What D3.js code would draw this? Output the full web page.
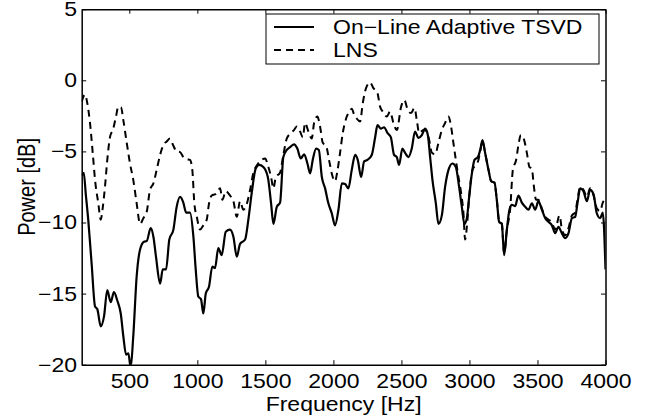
<!DOCTYPE html>
<html>
<head>
<meta charset="utf-8">
<script src="https://cdn.jsdelivr.net/npm/d3@7"></script>
<style>
  body { margin: 0; background: #fff; }
  svg text { font-family: "Liberation Sans", Arial, Helvetica, sans-serif; fill: #000; }
</style>
</head>
<body>
<svg id="chart" width="660" height="418"></svg>
<script>
// On-Line Adaptive TSVD curve
let freqTSVD = [150,165,180,198,223,248,265,290,314,338,363,387,412,437,456,476,493,510,529,554,579,608,628,657,677,696,726,746,770,794,824,848,873,897,917,946,971,988,1007,1027,1044,1062,1086,1110,1130,1154,1179,1209,1240,1265,1290,1314,1351,1375,1400,1429,1454,1485,1518,1542,1559,1584,1608,1632,1657,1682,1711,1735,1760,1785,1809,1829,1848,1873,1893,1915,1939,1963,1988,2012,2037,2062,2086,2110,2135,2160,2179,2204,2226,2250,2282,2307,2324,2349,2373,2397,2422,2446,2466,2483,2507,2527,2551,2576,2600,2625,2650,2674,2694,2711,2728,2753,2772,2797,2821,2846,2875,2900,2924,2944,2963,2981,2998,3018,3037,3062,3079,3096,3115,3140,3160,3184,3201,3218,3238,3255,3275,3294,3312,3336,3360,3385,3410,3434,3459,3483,3507,3532,3557,3581,3606,3630,3654,3679,3704,3728,3753,3777,3794,3814,3838,3863,3887,3912,3936,3961,3980,4000]
let powerTSVD = [-6.7,-6.5,-8.0,-9.8,-12.9,-15.9,-16.1,-17.3,-16.6,-14.75,-15.6,-14.9,-15.5,-16.4,-18.0,-19.3,-19.2,-20.2,-18.0,-13.8,-11.9,-11.35,-11.3,-10.4,-11.0,-12.4,-14.3,-13.3,-13.3,-11.2,-10.5,-8.9,-8.2,-8.6,-9.3,-9.3,-11.0,-13.3,-15.2,-15.4,-16.4,-15.0,-14.5,-13.1,-13.2,-11.8,-12.3,-10.65,-10.5,-11.0,-12.4,-11.5,-11.2,-9.8,-7.9,-6.2,-5.95,-6.1,-6.8,-8.65,-10.1,-8.9,-8.6,-5.4,-4.9,-4.7,-4.5,-4.8,-5.5,-5.2,-5.85,-6.55,-5.6,-4.8,-4.9,-6.8,-7.6,-8.65,-9.35,-10.2,-9.1,-7.25,-7.3,-7.6,-6.3,-5.25,-5.6,-6.8,-5.7,-5.6,-5.25,-4.0,-3.15,-3.4,-3.3,-3.7,-4.0,-5.25,-5.4,-5.95,-4.8,-5.1,-5.4,-4.8,-3.6,-4.05,-3.85,-3.4,-3.85,-5.4,-7.0,-8.65,-10.1,-9.5,-7.5,-6.3,-5.85,-6.1,-7.5,-8.9,-10.1,-9.7,-8.2,-6.55,-5.6,-5.4,-4.9,-4.2,-5.1,-6.3,-7.1,-7.2,-8.4,-9.95,-10.1,-12.3,-10.5,-9.1,-8.75,-8.85,-8.1,-8.6,-8.9,-9.1,-8.65,-9.1,-8.5,-9.1,-9.7,-9.95,-10.2,-10.75,-10.3,-10.75,-11.1,-10.75,-9.7,-9.6,-8.65,-7.6,-7.8,-8.5,-7.7,-8.0,-9.35,-9.7,-9.3,-13.3]

// LNS curve
let freqLNS = [150,174,191,211,231,248,272,290,304,321,338,358,382,402,419,439,456,481,505,529,554,579,603,628,652,677,701,726,750,775,799,819,848,873,897,922,946,963,978,996,1020,1044,1069,1086,1106,1135,1167,1184,1209,1240,1265,1290,1314,1338,1363,1388,1412,1437,1461,1498,1522,1542,1559,1577,1608,1632,1657,1689,1710,1731,1755,1775,1792,1816,1841,1858,1882,1902,1922,1946,1970,1988,2012,2029,2049,2069,2093,2118,2135,2152,2172,2196,2216,2240,2270,2294,2324,2343,2363,2392,2417,2441,2466,2498,2522,2547,2571,2596,2613,2630,2662,2687,2704,2724,2748,2772,2797,2821,2846,2865,2882,2900,2919,2939,2956,2968,2981,2998,3022,3047,3066,3079,3096,3115,3140,3160,3184,3201,3218,3238,3255,3275,3299,3319,3343,3360,3378,3397,3422,3441,3459,3471,3490,3507,3532,3557,3581,3606,3630,3662,3680,3704,3728,3753,3777,3794,3814,3838,3863,3887,3912,3936,3961,3980,4000]
let powerLNS = [-1.5,-1.0,-1.6,-3.0,-5.1,-7.0,-8.65,-9.8,-9.0,-7.5,-5.6,-4.0,-3.4,-2.55,-1.85,-1.9,-2.8,-4.4,-5.85,-7.0,-8.65,-10.1,-9.7,-9.25,-7.7,-7.25,-6.3,-5.25,-4.55,-4.3,-4.1,-4.5,-5.0,-5.05,-5.4,-5.55,-5.6,-6.3,-8.65,-9.6,-10.5,-10.2,-9.8,-8.65,-8.1,-8.0,-7.6,-8.4,-7.8,-8.1,-8.5,-9.6,-8.5,-9.1,-8.7,-7.7,-6.5,-6.0,-5.7,-5.5,-6.1,-6.8,-7.6,-6.8,-6.5,-5.25,-4.1,-3.7,-3.5,-3.25,-3.6,-4.0,-3.0,-3.6,-4.1,-3.0,-2.55,-3.25,-4.4,-4.6,-5.7,-6.55,-7.1,-6.4,-5.1,-3.7,-2.7,-2.2,-2.0,-2.4,-2.7,-2.9,-1.6,-0.55,-0.15,-0.55,-0.9,-1.85,-2.2,-2.55,-2.2,-3.0,-3.5,-1.85,-1.4,-2.1,-2.3,-1.95,-2.8,-3.7,-3.5,-3.6,-4.2,-5.1,-5.2,-4.4,-3.5,-3.0,-2.55,-3.25,-4.4,-5.6,-6.8,-7.95,-9.35,-11.2,-10.3,-8.2,-6.3,-5.95,-5.6,-5.0,-4.3,-5.1,-6.3,-7.1,-7.2,-8.4,-9.9,-10.1,-12.2,-10.5,-9.1,-6.3,-5.6,-4.55,-3.85,-4.05,-5.1,-6.1,-6.2,-7.25,-8.4,-8.4,-9.0,-9.6,-9.8,-10.0,-10.5,-9.5,-10.5,-10.9,-10.4,-9.5,-9.3,-8.4,-7.5,-7.7,-8.2,-7.6,-8.1,-9.0,-9.2,-8.6,-8.4]

let xTicks = [500,1000,1500,2000,2500,3000,3500,4000]
let yTicks = [-20,-15,-10,-5,0,5]
let seriesNames = ["On\u2212Line Adaptive TSVD", "LNS"]

let plotLeft = 81.7
let plotRight = 605.5
let plotTop = 9.2
let plotBottom = 364.7
let fontSize = "20px"
// the reference glyphs are wider than they are tall, stretch text sideways
let widen = 1.15

let svg = d3.select("#chart")

let xscale = d3.scaleLinear().domain([150, 4000]).range([plotLeft, plotRight])
let yscale = d3.scaleLinear().domain([-20, 5]).range([plotBottom, plotTop])

svg.append("defs").append("clipPath").attr("id", "plotClip")
    .append("rect")
    .attr("x", plotLeft).attr("y", plotTop)
    .attr("width", plotRight - plotLeft).attr("height", plotBottom - plotTop)

// axes, ticks pointing inward like matlab
let bottomAxis = d3.axisBottom(xscale).tickValues(xTicks).tickSizeInner(-4.5).tickSizeOuter(0).tickPadding(9).tickFormat(d3.format("d"))
let topAxis = d3.axisTop(xscale).tickValues(xTicks).tickSizeInner(-4.5).tickSizeOuter(0).tickFormat("")
let leftAxis = d3.axisLeft(yscale).tickValues(yTicks).tickSizeInner(-4.5).tickSizeOuter(0).tickPadding(4)
let rightAxis = d3.axisRight(yscale).tickValues(yTicks).tickSizeInner(-4.5).tickSizeOuter(0).tickFormat("")

svg.append("g").attr("transform", "translate(0," + plotBottom + ")").call(bottomAxis)
svg.append("g").attr("transform", "translate(0," + plotTop + ")").call(topAxis)
svg.append("g").attr("transform", "translate(" + plotLeft + ",0)").call(leftAxis)
svg.append("g").attr("transform", "translate(" + plotRight + ",0)").call(rightAxis)

svg.selectAll(".domain").attr("stroke", "#000").attr("stroke-width", 1.5)
svg.selectAll(".tick line").attr("stroke", "#000").attr("stroke-width", 1)
svg.selectAll(".tick text")
    .style("font-size", fontSize)
    .style("font-family", "'Liberation Sans', Arial, sans-serif")
    .attr("fill", "#000")
    .attr("transform", "scale(" + widen + ",1)")

let lineFunction = d3.line()
    .x(d => xscale(d[0]))
    .y(d => yscale(d[1]))
    .curve(d3.curveMonotoneX)

let tsvdData = freqTSVD.map((f, i) => [f, powerTSVD[i]])
let lnsData = freqLNS.map((f, i) => [f, powerLNS[i]])

svg.append("path")
    .datum(lnsData)
    .attr("clip-path", "url(#plotClip)")
    .attr("d", lineFunction)
    .attr("fill", "none")
    .attr("stroke", "#000")
    .attr("stroke-width", 2)
    .attr("stroke-dasharray", "7,5")

svg.append("path")
    .datum(tsvdData)
    .attr("clip-path", "url(#plotClip)")
    .attr("d", lineFunction)
    .attr("fill", "none")
    .attr("stroke", "#000")
    .attr("stroke-width", 2.2)

// axis labels
svg.append("text")
    .attr("transform", "translate(" + ((plotLeft + plotRight) / 2) + ",411) scale(" + widen + ",1)")
    .attr("text-anchor", "middle")
    .style("font-size", fontSize)
    .text("Frequency [Hz]")

svg.append("text")
    .attr("transform", "translate(35," + ((plotTop + plotBottom) / 2) + ") scale(" + widen + ",1) rotate(-90)")
    .attr("text-anchor", "middle")
    .style("font-size", fontSize)
    .text("Power [dB]")

// legend
let legendX = 266
let legendY = 14
svg.append("rect")
    .attr("x", legendX).attr("y", legendY)
    .attr("width", 333).attr("height", 50)
    .attr("fill", "#fff").attr("stroke", "#000").attr("stroke-width", 1)

let dashes = [null, "7,5"]
for(let i = 0; i < seriesNames.length; i++){
    let rowY = legendY + 13 + i * 23
    svg.append("line")
        .attr("x1", legendX + 8).attr("x2", legendX + 48)
        .attr("y1", rowY).attr("y2", rowY)
        .attr("stroke", "#000").attr("stroke-width", 2)
        .attr("stroke-dasharray", dashes[i])
    svg.append("text")
        .attr("transform", "translate(" + (legendX + 67) + "," + (rowY + 7) + ") scale(" + widen + ",1)")
        .style("font-size", fontSize)
        .text(seriesNames[i])
}
</script>
</body>
</html>
